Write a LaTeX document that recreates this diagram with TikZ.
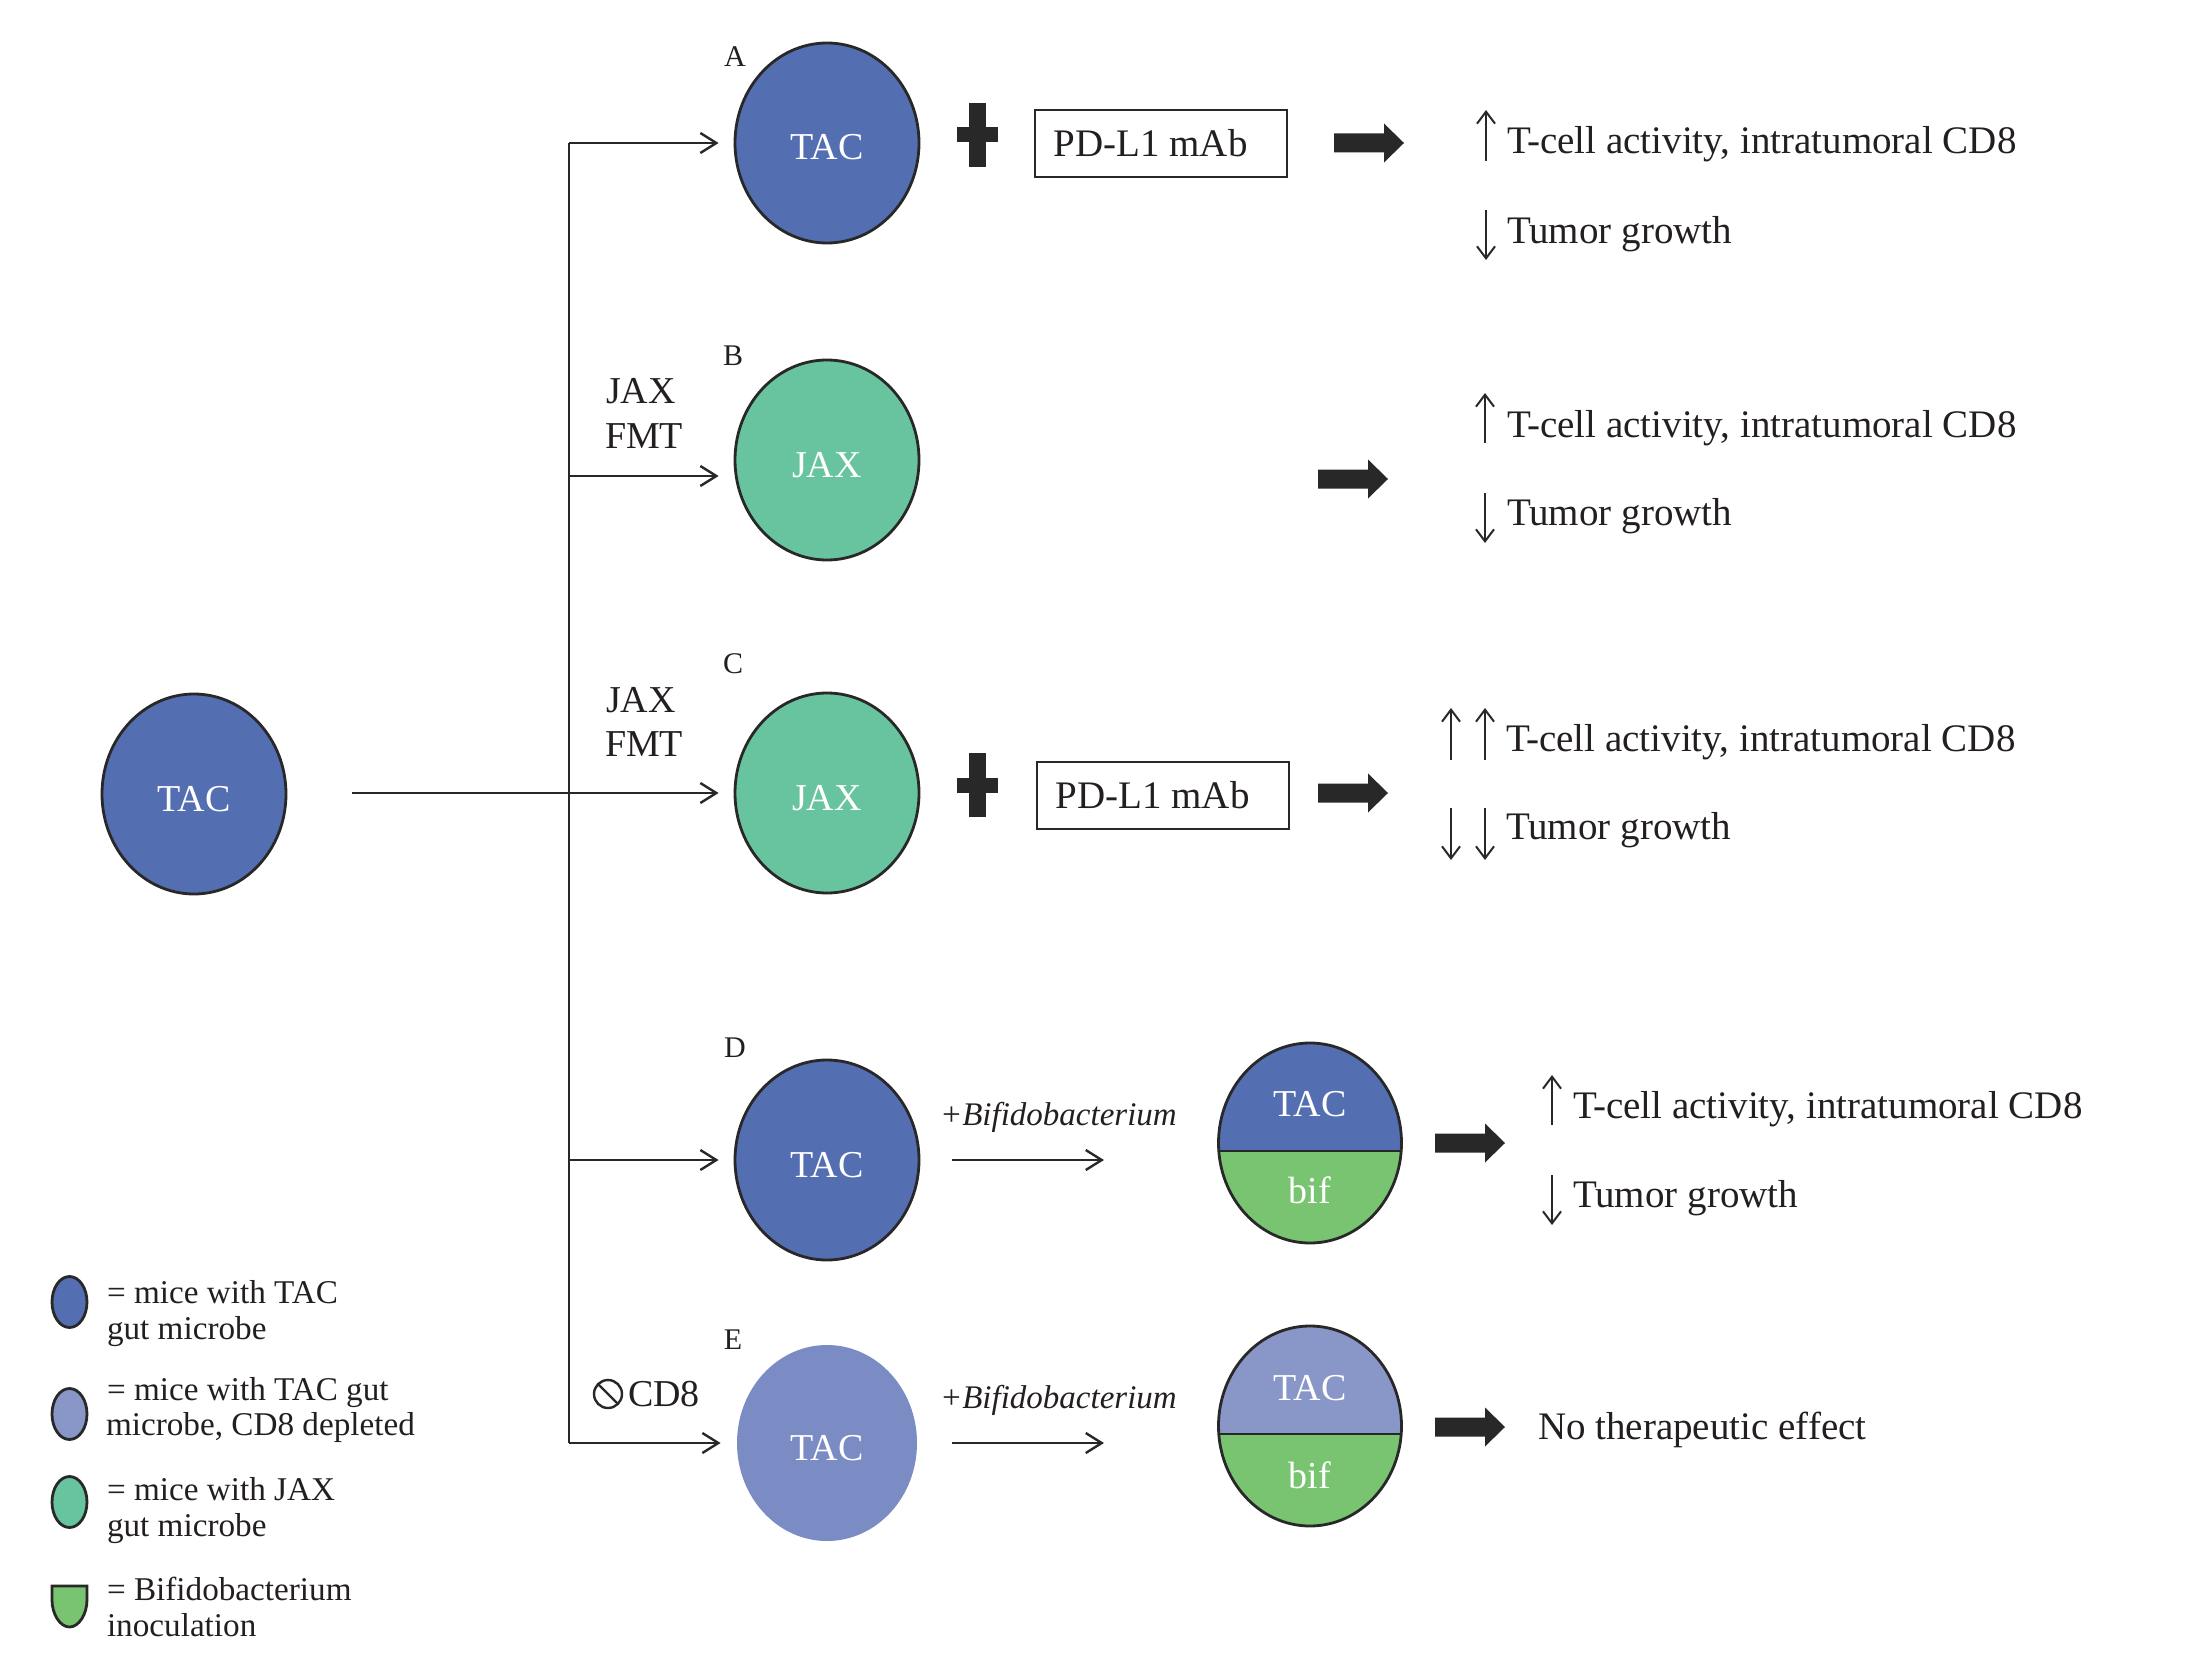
\documentclass[tikz,border=0pt]{standalone}
\usepackage{fontspec}
\setmainfont{Liberation Serif}
\usetikzlibrary{arrows.meta,shapes.geometric,calc}
\definecolor{tacblue}{RGB}{84,110,178}
\definecolor{jaxgreen}{RGB}{104,196,158}
\definecolor{cdblue}{RGB}{123,139,196}
\definecolor{cdbluelt}{RGB}{137,150,200}
\definecolor{bifgreen}{RGB}{120,196,112}
\definecolor{ink}{RGB}{40,40,40}
\definecolor{txt}{RGB}{35,31,32}
\tikzset{
  base/.style={text=txt,inner sep=0pt,outer sep=0pt},
  big/.style={base,font=\fontsize{19}{22}\selectfont},
  res/.style={base,font=\fontsize{19.5}{22}\selectfont,anchor=base west},
  mid/.style={base,font=\fontsize{16.6}{18}\selectfont,anchor=base west},
  lbl/.style={base,font=\fontsize{15}{17}\selectfont},
  bifido/.style={base,font=\fontsize{16.5}{18}\selectfont\itshape,anchor=base west},
  wtxt/.style={base,text=white,font=\fontsize{19}{22}\selectfont},
  mouse/.style={ellipse,draw=ink,line width=1.4pt,minimum width=92pt,minimum height=100pt,inner sep=0pt,text=white,font=\fontsize{19}{22}\selectfont,text height=17pt,text depth=0pt},
  tacm/.style={mouse,fill=tacblue},
  jaxm/.style={mouse,fill=jaxgreen},
  cdm/.style={mouse,draw=none,fill=cdblue,minimum width=90pt,minimum height=98pt},
  splitm/.style={ellipse,draw=ink,line width=1.4pt,minimum width=91.5pt,minimum height=100pt,inner sep=0pt,
    path picture={
      \fill[#1] (path picture bounding box.north west) rectangle ([yshift=-4pt]path picture bounding box.east);
      \fill[bifgreen] ([yshift=-4pt]path picture bounding box.west) rectangle (path picture bounding box.south east);
      \draw[ink,line width=1.4pt] ([yshift=-4pt]path picture bounding box.west) -- ([yshift=-4pt]path picture bounding box.east);
    }},
  conn/.style={draw=ink,line width=1.2pt,-{Straight Barb[length=8pt,width=10pt]},shorten >=7.5pt},
  freearrow/.style={draw=ink,line width=1.2pt,-{Straight Barb[length=8pt,width=10pt]}},
  trunkline/.style={draw=ink,line width=1.2pt},
  tick/.style={draw=ink,line width=1pt,-{Straight Barb[length=6pt,width=9pt]}},
  fatarrow/.pic={\fill[ink] (0,-9.5) -- (50,-9.5) -- (50,-19.5) -- (70,0) -- (50,19.5) -- (50,9.5) -- (0,9.5) -- cycle;},
  plussign/.pic={\fill[ink] (-8.5,-32) rectangle (8.5,32); \fill[ink] (-20.5,-7.5) rectangle (20.5,7.5);},
  drugbox/.style={draw=ink,line width=1.4pt,rectangle,minimum width=126pt,minimum height=33.5pt,inner sep=0pt},
  legm/.style={ellipse,draw=ink,line width=1.4pt,minimum width=17.5pt,minimum height=25.5pt,inner sep=0pt},
}
\begin{document}
\begin{tikzpicture}[x=0.5pt,y=-0.5pt]
\useasboundingbox (0,0) rectangle (2206,1653);

% mice
\node[tacm] (tac0) at (194,794) {TAC};
\node[tacm] (tacA) at (827,143) {TAC};
\node[jaxm] (jaxB) at (827,460) {JAX};
\node[jaxm] (jaxC) at (827,793) {JAX};
\node[tacm] (tacD) at (827,1160) {TAC};
\node[cdm]  (tacE) at (827,1443) {TAC};
\node[splitm=tacblue]  (bifD) at (1310,1143) {};
\node[splitm=cdbluelt] (bifE) at (1310,1426) {};
\node[wtxt] (bifDt) at (1310,1104) {TAC};
\node[wtxt] (bifDb) at (1310,1190) {bif};
\node[wtxt] (bifEt) at (1310,1388) {TAC};
\node[wtxt] (bifEb) at (1310,1475) {bif};

% group labels
\node[lbl] (lA) at (735,57) {A};
\node[lbl] (lB) at (733,356) {B};
\node[lbl] (lC) at (733,664) {C};
\node[lbl] (lD) at (735,1048) {D};
\node[lbl] (lE) at (733,1340) {E};

% tree
\coordinate (h0) at (352,793);
\coordinate (tA) at (569,143);
\coordinate (tB) at (569,476);
\coordinate (tD) at (569,1160);
\coordinate (tE) at (569,1443);
\draw[trunkline] (tA) -- (tE);
\draw[conn] (tA) -- (tacA.west);
\draw[conn] (tB) -- (tB -| jaxB.west);
\draw[conn] (h0) -- (jaxC.west);
\draw[conn] (tD) -- (tacD.west);
\draw[conn] (tE) -- (tacE.west);

\node[big,anchor=base west] (jB1) at (606,403) {JAX};
\node[big,anchor=base west] (jB2) at (605,448) {FMT};
\node[big,anchor=base west] (jC1) at (606,712) {JAX};
\node[big,anchor=base west] (jC2) at (605,756) {FMT};

% CD8 depletion label
\node[big,anchor=base west] (cd8) at (628,1406) {CD8};
\draw[ink,line width=1.2pt] (608,1394) circle [radius=7pt];
\draw[ink,line width=1.2pt] (598,1384) -- (618,1404);

% treatments
\pic at (977,135) {plussign};
\node[drugbox] (pdA) at (1161,143.5) {};
\node[res,anchor=west] (pdAt) at ($(pdA.west)+(20,0)$) {PD-L1 mAb};
\pic at (977,785) {plussign};
\node[drugbox] (pdC) at (1163,795.5) {};
\node[res,anchor=west] (pdCt) at ($(pdC.west)+(20,0)$) {PD-L1 mAb};

\coordinate (bD1) at (952,1160);
\coordinate (bD2) at (1104,1160);
\coordinate (bE1) at (952,1443);
\coordinate (bE2) at (1104,1443);
\draw[freearrow] (bD1) -- (bD2);
\draw[freearrow] (bE1) -- (bE2);
\node[bifido] (bfD) at (940,1125) {+Bifidobacterium};
\node[bifido] (bfE) at (940,1408) {+Bifidobacterium};

% fat arrows
\pic at (1334,143) {fatarrow};
\pic at (1318,479) {fatarrow};
\pic at (1318,793) {fatarrow};
\pic at (1435,1143) {fatarrow};
\pic at (1435,1427) {fatarrow};

% results
\node[res] (rA1) at (1507,154) {T-cell activity, intratumoral CD8};
\node[res] (rA2) at (1507,244) {Tumor growth};
\draw[tick] (1486,161) -- (1486,110);
\draw[tick] (1486,210) -- (1486,260);

\node[res] (rB1) at (1507,437) {T-cell activity, intratumoral CD8};
\node[res] (rB2) at (1507,525) {Tumor growth};
\draw[tick] (1485,443) -- (1485,393);
\draw[tick] (1485,493) -- (1485,543);

\node[res] (rC1) at (1506,751) {T-cell activity, intratumoral CD8};
\node[res] (rC2) at (1506,839) {Tumor growth};
\draw[tick] (1451,760) -- (1451,708);
\draw[tick] (1485,760) -- (1485,708);
\draw[tick] (1451,808) -- (1451,860);
\draw[tick] (1485,808) -- (1485,860);

\node[res] (rD1) at (1573,1118) {T-cell activity, intratumoral CD8};
\node[res] (rD2) at (1573,1207) {Tumor growth};
\draw[tick] (1552,1125) -- (1552,1075);
\draw[tick] (1552,1175) -- (1552,1225);

\node[res] (rE) at (1538,1439) {No therapeutic effect};

% legend
\node[legm,fill=tacblue]  (lg1) at (69.5,1302) {};
\node[legm,fill=cdbluelt] (lg2) at (69.5,1414) {};
\node[legm,fill=jaxgreen] (lg3) at (69.5,1502) {};
\filldraw[fill=bifgreen,draw=ink,line width=1.4pt] (52,1586) -- (87,1586) -- (87,1600)
  .. controls (87,1614) and (79,1627) .. (69.5,1627)
  .. controls (60,1627) and (52,1614) .. (52,1600) -- cycle;
\node[mid] (lt1a) at (107,1303) {= mice with TAC};
\node[mid] (lt1b) at (107,1339) {gut microbe};
\node[mid] (lt2a) at (107,1400) {= mice with TAC gut};
\node[mid] (lt2b) at (106,1435) {microbe, CD8 depleted};
\node[mid] (lt3a) at (107,1500) {= mice with JAX};
\node[mid] (lt3b) at (107,1536) {gut microbe};
\node[mid] (lt4a) at (107,1600) {= Bifidobacterium};
\node[mid] (lt4b) at (107,1636) {inoculation};
\end{tikzpicture}
\end{document}
